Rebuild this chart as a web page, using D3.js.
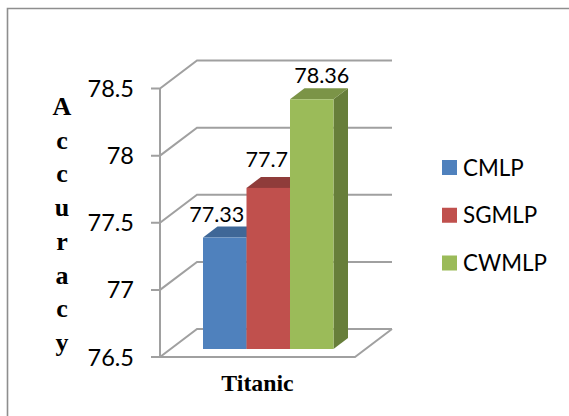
<!DOCTYPE html>
<html>
<head>
<meta charset="utf-8">
<script src="https://cdnjs.cloudflare.com/ajax/libs/d3/7.8.5/d3.min.js"></script>
<style>
html, body { margin: 0; padding: 0; background: #fff; }
svg { display: block; }
</style>
</head>
<body>
<svg id="chart" width="569" height="416"></svg>
<script>
// Accuracy of three MLP variants on the Titanic dataset
const category = "Titanic";
const seriesNames = ["CMLP", "SGMLP", "CWMLP"];
const seriesValues = [77.33, 77.7, 78.36];
const valueLabels = ["77.33", "77.7", "78.36"];
const yTicks = [76.5, 77, 77.5, 78, 78.5];
const yTitleLetters = ["A", "c", "c", "u", "r", "a", "c", "y"];
const frontColors = ["#4f81bd", "#c0504d", "#9bbb59"];
const topColors = ["#3f6797", "#8f3c3a", "#7b9447"];
const sideColors = ["#3a5f8c", "#863735", "#677e3a"];

const svg = d3.select("#chart");
const sansFont = "Lato, Carlito, 'Open Sans', sans-serif";
const serifFont = "'Liberation Serif', 'Times New Roman', serif";
const gridColor = "#a0a0a0";

// Outer chart frame: open at the right and bottom, where it runs off the canvas
svg.append("path")
  .attr("d", "M7.5,416V8.5H569")
  .attr("fill", "none").attr("stroke", "#8e8e8e").attr("stroke-width", 1.6);

const y = d3.scaleLinear().domain([76.5, 78.5]).range([357, 88.5]);
const x = d3.scaleBand().domain(seriesNames).range([203, 333.5]).padding(0);

// Oblique projection of the 3D box
const wallDx = 37, wallDy = -28;   // axis plane to back wall
const floorWidth = 195;            // front edge of the floor
const axisX = 160;
const barLift = 8;                 // bars stand slightly behind the front edge
const barDx = 14.5, barDy = -11;   // bar depth

const grid = svg.append("g").attr("fill", "none").attr("stroke", gridColor).attr("stroke-width", 2);

// Back-wall gridlines with their diagonal returns and tick stubs
yTicks.forEach(t => {
  const py = y(t);
  grid.append("path").attr("d",
    `M${axisX - 9},${py}H${axisX}L${axisX + wallDx},${py + wallDy}H392`);
});

// Vertical axis and floor outline
grid.append("path").attr("d", `M${axisX},${y(78.5)}V${y(76.5)}`);
grid.append("path").attr("d",
  `M${axisX},${y(76.5)}H${axisX + floorWidth}L392,${y(76.5) + wallDy}`);

// Tick labels
svg.append("g").selectAll("text").data(yTicks).join("text")
  .attr("x", 134).attr("y", d => y(d) + 8.5)
  .attr("text-anchor", "end")
  .attr("font-family", sansFont).attr("font-size", 23.5).attr("fill", "#000")
  .text(d => d3.format("~g")(d));

// Bars, left to right, so each covers the side face of the one before it
const bars = svg.append("g").selectAll("g").data(seriesNames).join("g");
bars.each(function (name, i) {
  const g = d3.select(this);
  const x0 = x(name), x1 = x0 + x.bandwidth();
  const top = y(seriesValues[i]) - barLift;
  const base = y(76.5) - barLift;
  g.append("path").attr("fill", sideColors[i]).attr("d",
    `M${x1},${top}L${x1 + barDx},${top + barDy}V${base + barDy}L${x1},${base}Z`);
  g.append("path").attr("fill", topColors[i]).attr("d",
    `M${x0},${top}L${x0 + barDx},${top + barDy}H${x1 + barDx}L${x1},${top}Z`);
  g.append("rect").attr("x", x0).attr("y", top)
    .attr("width", x.bandwidth()).attr("height", base - top)
    .attr("fill", frontColors[i]);
});

// Value labels above each bar, each with its own small placement offset
const labelShiftX = [-8, -1.5, 10];
const labelGapY = [16, 21, 16];
svg.append("g").selectAll("text").data(valueLabels).join("text")
  .attr("x", (d, i) => x(seriesNames[i]) + x.bandwidth() / 2 + labelShiftX[i])
  .attr("y", (d, i) => y(seriesValues[i]) - barLift - labelGapY[i])
  .attr("text-anchor", "middle")
  .attr("font-family", sansFont).attr("font-size", 21.6).attr("fill", "#000")
  .text(d => d);

// Stacked vertical axis title
svg.append("g").selectAll("text").data(yTitleLetters).join("text")
  .attr("x", 62).attr("y", (d, i) => 115 + i * 33.7)
  .attr("text-anchor", "middle")
  .attr("font-family", serifFont).attr("font-weight", "bold").attr("font-size", 26).attr("fill", "#000")
  .text(d => d);

// Category label
svg.append("text").attr("x", 257.5).attr("y", 391)
  .attr("text-anchor", "middle")
  .attr("font-family", serifFont).attr("font-weight", "bold").attr("font-size", 23.8).attr("fill", "#000")
  .text(category);

// Legend
const legendY = d3.scalePoint().domain(seriesNames).range([167.5, 263]);
const legend = svg.append("g").selectAll("g").data(seriesNames).join("g")
  .attr("transform", d => `translate(442,${legendY(d)})`);
legend.append("rect").attr("x", 0).attr("y", -7.5).attr("width", 15).attr("height", 15)
  .attr("fill", (d, i) => frontColors[i]);
legend.append("text").attr("x", 21).attr("y", 8)
  .attr("font-family", sansFont).attr("font-size", 22.4).attr("fill", "#000")
  .text(d => d);
</script>
</body>
</html>
